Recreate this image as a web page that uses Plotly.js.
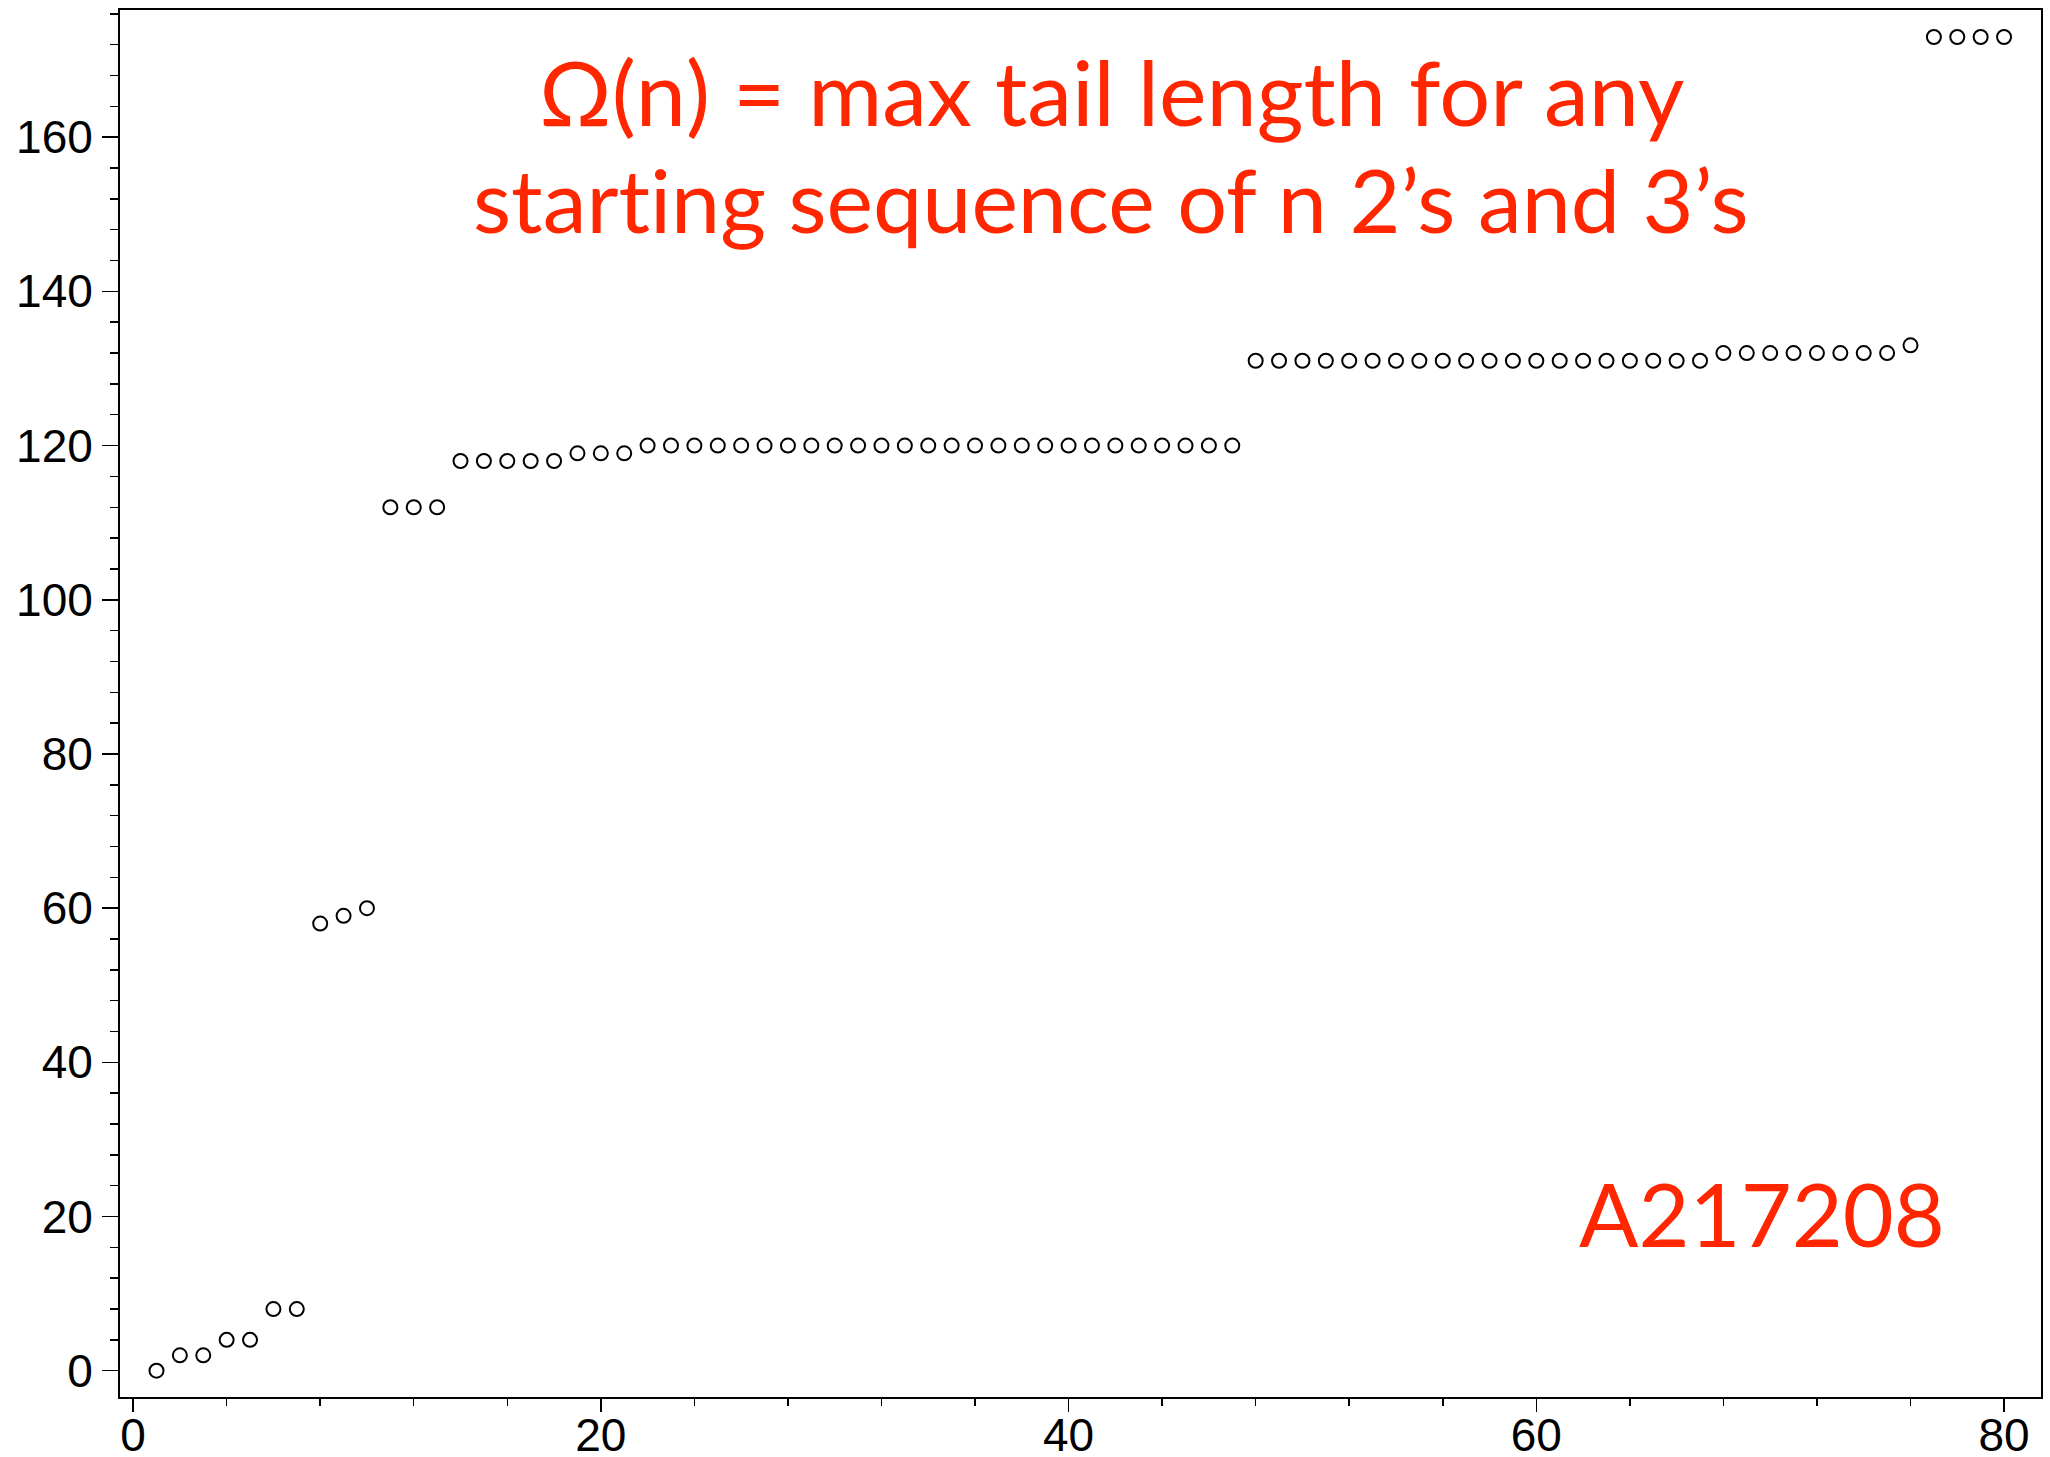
<!DOCTYPE html>
<html>
<head>
<meta charset="utf-8">
<script src="https://cdn.plot.ly/plotly-3.0.1.min.js"></script>
<style>
html,body{margin:0;padding:0;background:#fff;}
#chart{width:2050px;height:1457px;}
text{font-variant-ligatures:none;font-feature-settings:"liga" 0,"clig" 0;}
</style>
</head>
<body>
<div id="chart"></div>
<script>
// n = 1..80
const nValues = [];
for (let i = 1; i <= 80; i++) nValues.push(i);
// A217208 values
const omegaValues = [
  0, 2, 2, 4, 4, 8, 8, 58, 59, 60,
  112, 112, 112, 118, 118, 118, 118, 118, 119, 119,
  119, 120, 120, 120, 120, 120, 120, 120, 120, 120,
  120, 120, 120, 120, 120, 120, 120, 120, 120, 120,
  120, 120, 120, 120, 120, 120, 120, 131, 131, 131,
  131, 131, 131, 131, 131, 131, 131, 131, 131, 131,
  131, 131, 131, 131, 131, 131, 131, 132, 132, 132,
  132, 132, 132, 132, 132, 133, 173, 173, 173, 173
];
const titleLines = ["Ω(n) = max tail length for any", "starting sequence of n 2’s and 3’s"];
const seqLabel = "A217208";

const red = "#FF2600";
const textFont = {family: "Lato, 'Open Sans', sans-serif", size: 88, color: red};

const trace = {
  x: nValues, y: omegaValues, type: "scatter", mode: "markers",
  marker: {symbol: "circle-open", size: 14, color: "#000", line: {width: 2, color: "#000"}},
  hoverinfo: "x+y"
};

const axisCommon = {
  showgrid: false, zeroline: false, showline: true, mirror: true,
  linecolor: "#000", linewidth: 2,
  ticks: "outside", tickcolor: "#000", tickwidth: 1.5,
  tickfont: {family: "'Liberation Sans', Arial, sans-serif", size: 46, color: "#000"}
};

const layout = {
  width: 2050, height: 1457,
  margin: {l: 120, r: 9, t: 10, b: 60},
  paper_bgcolor: "#fff", plot_bgcolor: "#fff",
  showlegend: false,
  xaxis: Object.assign({}, axisCommon, {
    range: [-0.56, 81.58], dtick: 20, tick0: 0, ticklen: 13, ticklabelstandoff: -16,
    minor: {dtick: 4, tick0: 0, ticks: "outside", ticklen: 7, tickcolor: "#000", tickwidth: 1.5}
  }),
  yaxis: Object.assign({}, axisCommon, {
    range: [-3.41, 176.5], dtick: 20, tick0: 0, ticklen: 16,
    minor: {dtick: 4, tick0: 0, ticks: "outside", ticklen: 8, tickcolor: "#000", tickwidth: 1.5}
  }),
  annotations: [
    {xref: "paper", yref: "paper", x: 0.516, y: 0.9415, xanchor: "center", yanchor: "middle",
     text: titleLines[0], showarrow: false, font: Object.assign({}, textFont, {size: 90})},
    {xref: "paper", yref: "paper", x: 0.516, y: 0.8640, xanchor: "center", yanchor: "middle",
     text: titleLines[1], showarrow: false, font: textFont},
    {xref: "paper", yref: "paper", x: 0.855, y: 0.1330, xanchor: "center", yanchor: "middle",
     text: seqLabel, showarrow: false, font: textFont}
  ]
};

Plotly.newPlot("chart", [trace], layout, {displayModeBar: false, staticPlot: true});
</script>
</body>
</html>
